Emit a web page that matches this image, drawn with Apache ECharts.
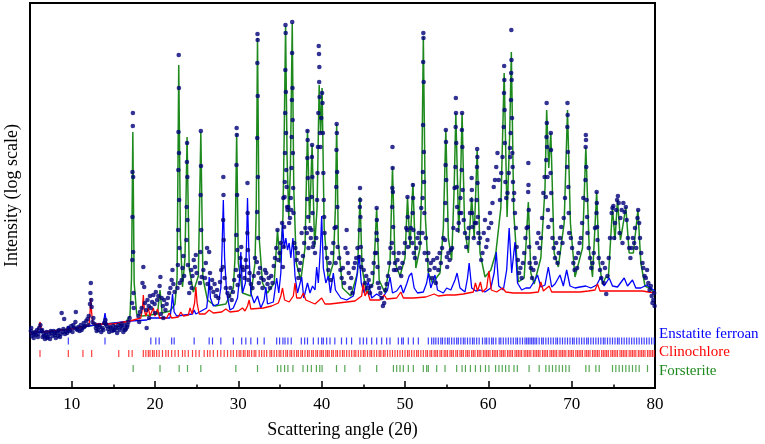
<!DOCTYPE html>
<html><head><meta charset="utf-8">
<script src="https://cdn.jsdelivr.net/npm/echarts@6/dist/echarts.min.js"></script>
<style>html,body{margin:0;padding:0;background:#fff}#c{width:765px;height:444px}</style>
</head><body><div id="c"></div>
<script>
// x: scattering angle (2θ, degrees); y: intensity on the plotted log scale (arbitrary units)
const xTickLabels = [10,20,30,40,50,60,70,80];
const xMinorTicks = [15,25,35,45,55,65,75];
const phaseNames = ['Enstatite ferroan','Clinochlore','Forsterite'];

const observed = [
[5.1,57],[5.2,52],[5.3,55],[5.45,50],[5.6,56],[5.7,53],[5.85,58],[6.0,54],[6.1,60],[6.25,63],[6.35,57],[6.5,51],[6.6,55],[6.8,49],[6.9,53],[7.0,56],[7.15,51],[7.3,54],[7.4,49],[7.55,55],[7.7,52],[7.85,57],[8.0,53],[8.1,50],[8.25,55],[8.4,52],[8.5,58],[8.7,54],[8.8,75],[8.95,56],[9.1,69],[9.3,57],[9.45,55],[9.6,60],[9.8,58],[9.95,62],[10.1,56],[10.3,60],[10.45,66],[10.5,76],[10.6,59],[10.8,61],[10.95,57],[11.1,63],[11.3,60],[11.45,65],[11.6,62],[11.75,67],[11.9,69],[12.05,72],[12.2,84],[12.25,95],[12.3,105],[12.35,88],[12.4,81],[12.6,70],[12.75,64],[12.9,60],[13.05,62],[13.2,58],[13.4,61],[13.55,56],[13.7,60],[13.9,65],[14.05,68],[14.2,62],[14.35,59],[14.5,56],[14.7,60],[14.85,57],[15.0,62],[15.15,58],[15.3,61],[15.45,55],[15.6,63],[15.75,58],[15.9,62],[16.05,60],[16.2,56],[16.35,63],[16.5,59],[16.65,61],[16.8,66],[16.95,70],
[5.15,60],[5.5,54],[5.95,51],[6.45,58],[6.7,52],[7.05,50],[7.5,57],[7.95,55],[8.35,57],[8.6,51],[9.0,59],[9.2,54],[9.7,57],[10.2,63],[10.7,58],[11.2,58],[11.5,61],[12.0,63],[12.5,66],[13.0,57],[13.3,63],[13.8,58],[14.1,64],[14.6,61],[15.05,58],[15.5,60],[16.0,64],[16.4,58],[16.7,63],
[17.35,275],[17.34,262],[17.3,216],[17.38,211],[17.3,171],[17.38,136],[17.28,128],[17.42,95],[17.25,85],[17.45,80],
[18.0,72],[18.1,66],[18.2,76],[18.4,80],[18.5,105],[18.6,121],[18.7,101],[18.8,85],[18.95,78],[19.0,60],[19.1,88],[19.25,82],[19.3,70],[19.4,92],[19.5,80],[19.65,86],[19.8,93],[19.95,84],[20.0,75],[20.1,96],[20.25,88],[20.4,92],[20.55,102],[20.65,111],[20.7,74],[20.8,90],[20.95,82],[21.0,70],[21.1,88],[21.25,78],[21.4,84],[21.55,90],[21.7,95],[21.85,100],[22.0,108],[22.1,118],[22.2,104],[22.35,96],
[22.85,333],[22.87,300],[22.82,256],[22.88,235],[22.8,218],[22.9,188],[22.78,158],[22.93,140],[22.75,123],[22.97,105],[22.7,100],
[23.85,245],[23.83,226],[23.88,211],[23.8,181],[23.9,168],[23.78,148],[23.95,123],[23.3,120],[23.4,132],[23.5,112],[23.2,108],
[24.2,105],[24.35,118],[24.5,112],[24.65,128],[24.8,121],[24.9,133],[25.0,115],[24.1,95],[24.4,100],
[25.5,257],[25.52,222],[25.47,193],[25.55,158],[25.45,136],[25.6,111],[25.4,105],
[25.8,118],[26.0,110],[26.1,125],[26.25,140],[26.3,104],[26.5,136],[26.6,115],[26.7,100],[26.85,108],[27.0,96],[27.15,104],[27.3,92],[27.45,98],[27.6,90],[27.8,106],[27.95,118],
[28.2,211],[28.22,193],[28.18,168],[28.25,148],[28.15,121],[28.35,110],[28.5,100],[28.7,95],
[28.9,92],[29.05,100],[29.2,88],[29.35,96],[29.5,108],
[29.8,260],[29.82,253],[29.78,223],[29.85,193],[29.75,153],[29.88,138],[29.72,118],[29.92,103],
[30.1,112],[30.25,130],[30.35,141],[30.5,121],[30.6,118],[30.75,110],[30.9,128],
[31.1,205],[31.12,175],[31.08,155],[31.15,138],[31.05,121],[31.2,108],[31.35,115],[31.5,104],[31.7,100],[31.85,112],[32.0,130],
[32.3,354],[32.32,348],[32.28,325],[32.33,292],[32.27,250],[32.35,211],[32.25,176],[32.38,150],[32.22,126],[32.42,115],[32.46,105],
[32.6,120],[32.75,110],[32.9,100],[33.05,108],[33.2,118],[33.35,115],[33.5,104],[33.65,110],[33.8,100],[33.95,112],[34.1,105],[34.25,122],[34.4,130],[34.55,140],[34.7,158],[34.8,128],[34.95,135],[35.1,145],[35.25,165],[35.4,190],
[35.66,363],[35.68,355],[35.64,318],[35.7,296],[35.62,275],[35.72,255],[35.6,235],[35.75,218],[35.58,206],[35.8,201],[35.55,191],[35.85,181],[35.5,161],[35.9,178],[36.0,181],[36.1,165],[35.45,141],[35.35,121],
[36.47,366],[36.45,335],[36.5,300],[36.43,288],[36.52,268],[36.4,251],[36.55,235],[36.38,220],[36.58,200],[36.35,178],[36.62,175],[36.7,145],[36.3,190],[36.2,170],
[36.85,140],[37.0,128],[37.15,135],[37.2,110],[37.3,118],[37.45,125],[37.6,155],[37.75,132],[37.9,145],[38.05,160],
[38.3,257],[38.32,248],[38.28,230],[38.34,210],[38.26,189],[38.38,171],[38.22,155],[38.42,140],
[38.85,243],[38.83,231],[38.88,211],[38.8,191],[38.9,175],[38.77,158],[38.95,141],[38.6,160],[38.7,150],[39.05,145],[39.2,135],[39.35,150],
[39.65,342],[39.68,334],[39.72,321],[39.7,306],[39.75,291],[39.6,275],[39.8,255],[39.55,241],[39.85,241],[39.5,215],[39.95,270],[40.05,295],[40.1,285],[40.15,255],[40.2,215],[40.25,188],[40.3,171],[39.45,188],[40.35,155],
[40.5,140],[40.65,130],[40.8,118],[40.95,125],[41.1,108],[41.25,135],[41.4,145],[41.55,160],
[41.8,264],[41.82,255],[41.78,238],[41.85,216],[41.75,201],[41.88,181],[41.72,161],[41.92,141],[41.68,125],
[42.1,130],[42.25,118],[42.4,110],[42.55,120],[42.7,105],[42.85,140],[43.0,158],[43.1,135],[43.15,125],[43.25,115],[43.4,100],[43.55,110],[43.7,95],[43.85,120],[44.0,125],[44.15,130],[44.3,140],
[44.6,200],[44.62,188],[44.58,181],[44.65,171],[44.55,158],[44.7,141],[44.5,131],[44.75,121],
[44.9,128],[45.05,118],[45.2,105],[45.35,112],[45.5,100],[45.65,108],[45.8,95],[45.95,102],[46.1,115],[46.25,125],[46.4,135],
[46.6,180],[46.62,168],[46.58,155],[46.65,148],[46.55,135],[46.7,121],[46.75,105],
[46.9,100],[47.05,95],[47.2,90],[47.35,82],[47.5,85],[47.65,98],[47.8,104],[47.95,112],[48.1,125],[48.25,140],
[48.5,241],[48.52,220],[48.48,200],[48.55,196],[48.46,181],[48.58,161],[48.43,145],[48.62,135],[48.68,118],
[48.8,125],[48.95,118],[49.1,128],[49.25,135],[49.4,120],[49.55,112],[49.7,125],[49.85,135],[50.0,145],[50.15,160],
[50.3,191],[50.32,171],[50.27,158],[50.35,141],
[50.95,203],[50.97,190],[50.92,175],[51.0,158],[50.88,145],[50.6,150],[50.7,160],[51.05,135],
[51.2,130],[51.35,140],[51.5,150],[51.65,155],[51.8,145],[51.95,180],
[52.2,355],[52.22,350],[52.18,326],[52.24,306],[52.17,263],[52.26,236],[52.15,216],[52.28,206],[52.12,190],[52.32,175],[52.1,155],[52.36,135],
[52.5,150],[52.65,128],[52.8,135],[52.95,118],[53.1,125],[53.25,110],[53.4,128],[53.55,120],[53.7,105],[53.85,130],[54.0,118],[54.15,135],[54.3,125],[54.45,140],[54.6,150],
[54.9,258],[54.92,246],[54.87,223],[54.95,208],[54.84,185],[54.98,168],[54.8,148],[55.02,131],[55.06,121],
[55.2,135],[55.35,128],[55.5,138],[55.65,140],[55.8,160],[55.95,200],
[56.1,290],[56.12,275],[56.08,261],[56.15,245],[56.05,221],[56.2,201],[56.25,181],[56.3,158],
[56.85,275],[56.83,258],[56.88,241],[56.8,218],[56.92,198],[56.75,175],[56.45,165],[56.55,175],[56.65,190],
[57.05,168],[57.2,155],[57.35,141],[57.5,150],[57.65,160],[57.8,175],
[58.0,210],[58.02,198],[57.98,188],[58.05,175],[58.1,161],[58.25,150],[58.4,165],
[58.66,239],[58.68,231],[58.64,221],[58.7,205],[58.6,188],[58.75,171],[58.55,165],[58.8,155],[58.85,145],
[59.0,150],[59.15,128],[59.3,135],[59.45,155],[59.6,168],[59.75,141],[59.9,148],[60.05,160],[60.2,175],[60.35,165],[60.5,185],[60.65,201],[60.8,208],[60.95,221],[61.1,235],[61.25,208],[61.4,188],[61.55,215],[61.7,231],
[61.9,322],[61.92,308],[61.88,295],[61.95,278],[61.85,261],[61.98,245],[62.05,206],[62.15,190],[62.3,195],[62.45,215],
[62.76,358],[62.78,328],[62.74,315],[62.8,308],[62.72,288],[62.84,270],[62.68,255],[62.88,235],[62.62,231],[62.92,221],[62.6,240],[62.96,206],[63.0,188],
[63.1,195],[63.2,175],[63.3,160],[63.4,141],[63.55,128],[63.7,115],[63.85,120],[64.0,110],[64.15,125],[64.3,135],[64.45,150],[64.6,160],
[64.8,225],[64.82,203],[64.78,196],[64.85,178],[64.75,161],[64.9,141],[64.95,125],
[65.1,120],[65.25,110],[65.4,118],[65.55,130],[65.7,125],[65.85,145],[66.0,155],[66.15,140],[66.3,150],[66.45,170],[66.6,195],[66.75,211],
[67.0,285],[67.02,265],[66.98,251],[67.05,241],[66.95,228],[67.1,211],[66.9,191],[67.15,178],[67.2,161],
[67.5,255],[67.52,238],[67.47,215],[67.55,195],[67.6,168],[67.7,150],
[67.85,140],[68.0,130],[68.15,145],[68.3,125],[68.45,135],[68.6,150],[68.75,161],[68.9,145],[69.05,170],[69.2,190],
[69.5,285],[69.52,273],[69.48,261],[69.55,236],[69.45,221],[69.6,201],[69.65,175],[69.7,155],
[69.9,150],[70.05,140],[70.2,125],[70.35,118],[70.5,130],[70.65,120],[70.8,135],[70.95,145],[71.1,150],[71.25,165],[71.4,190],
[71.7,253],[71.72,248],[71.68,241],[71.75,221],[71.65,208],[71.8,188],[71.85,171],[71.9,155],
[72.05,140],[72.2,130],[72.35,120],[72.5,125],[72.65,135],[72.8,160],
[73.0,196],[73.02,185],[72.98,175],[73.05,161],[73.1,148],
[73.25,130],[73.4,118],[73.55,110],[73.7,125],[73.85,105],[74.0,120],[74.15,94],[74.3,112],[74.45,130],[74.6,150],
[74.8,175],[74.9,180],[75.0,182],[75.1,150],[75.2,165],[75.35,178],[75.45,188],[75.55,192],[75.65,185],[75.75,155],[75.85,170],[76.0,178],[76.1,145],[76.2,185],[76.35,176],[76.5,181],[76.6,168],[76.75,150],[76.9,140],
[77.05,130],[77.2,140],[77.35,150],[77.5,145],[77.6,160],[77.75,140],[77.9,170],[77.98,178],[78.1,165],[78.2,150],[78.35,135],
[78.5,125],[78.6,120],[78.75,112],[78.9,110],[79.05,118],[79.2,105],[79.35,98],[79.5,102],[79.6,92],[79.7,85],[79.8,88],[79.9,95],[79.95,82]
];

const forsteriteCalc = [
[5.0,55],[8.0,57],[11.0,61],[14.0,64],[16.5,66],[17.0,72],[17.18,110],[17.34,256],[17.5,105],[17.8,74],[18.5,72],[20.3,74],[20.6,98],[20.85,75],[21.8,77],[22.4,84],[22.65,110],[22.85,323],[23.05,150],[23.3,101],[23.6,130],[23.85,251],[24.1,120],[24.6,96],[25.2,112],[25.5,256],[25.75,110],[26.3,88],[27.2,82],[28.5,84],[29.4,100],[29.6,130],[29.8,255],[30.0,125],[30.5,95],[31.5,92],[32.0,125],[32.15,180],[32.3,350],[32.5,150],[32.9,105],[33.5,95],[34.3,105],[34.7,158],[35.0,125],[35.35,170],[35.5,250],[35.67,362],[35.85,230],[36.05,171],[36.25,220],[36.47,365],[36.65,200],[36.95,125],[37.5,108],[38.0,140],[38.3,258],[38.55,165],[38.85,243],[39.15,141],[39.45,180],[39.7,303],[39.88,255],[40.05,300],[40.3,160],[40.8,108],[41.4,125],[41.65,180],[41.8,264],[42.0,145],[42.5,100],[43.5,92],[44.3,115],[44.6,191],[44.85,120],[45.4,95],[46.2,105],[46.6,180],[46.9,108],[47.6,95],[48.2,125],[48.5,221],[48.8,125],[49.4,112],[50.0,130],[50.3,191],[50.6,140],[50.95,205],[51.3,120],[51.8,140],[52.0,200],[52.2,351],[52.45,170],[52.8,115],[53.3,105],[54.2,115],[54.6,160],[54.9,258],[55.2,150],[55.6,128],[55.9,200],[56.1,275],[56.45,155],[56.7,220],[56.85,275],[57.15,160],[57.6,135],[58.0,191],[58.3,150],[58.66,238],[59.0,135],[59.6,111],[60.3,118],[60.9,135],[61.5,180],[61.9,315],[62.25,171],[62.55,250],[62.76,336],[63.05,175],[63.6,106],[64.3,110],[64.8,186],[65.1,115],[65.5,104],[66.3,130],[66.8,200],[67.0,278],[67.25,220],[67.5,255],[67.9,135],[68.4,121],[69.1,165],[69.5,278],[69.85,165],[70.4,111],[71.3,140],[71.7,241],[72.1,140],[72.5,111],[73.0,196],[73.3,125],[73.7,104],[74.1,111],[74.4,110],[74.9,180],[75.2,148],[75.5,188],[75.85,148],[76.1,160],[76.5,181],[76.9,135],[77.4,135],[77.95,178],[78.3,125],[78.8,102],[79.3,100],[80.0,95]
];

const enstatiteCalc = [
[5.0,55],[6.0,56],[9.4,58],[9.6,62],[9.8,59],[11.0,61],[13.8,64],[14.0,75],[14.2,64],[17.0,67],[19.0,68],[19.5,70],[19.7,68],[21.8,70],[21.95,80],[22.1,94],[22.3,76],[22.6,72],[24.5,74],[24.7,78],[24.9,74],[26.2,80],[26.4,95],[26.5,111],[26.65,90],[27.0,82],[27.6,84],[27.9,100],[28.05,140],[28.2,188],[28.35,130],[28.6,95],[29.0,78],[29.4,80],[29.9,90],[30.15,110],[30.3,136],[30.5,95],[30.85,105],[31.0,150],[31.1,190],[31.25,140],[31.5,95],[31.9,85],[32.3,92],[32.7,80],[33.1,88],[33.3,101],[33.5,84],[34.2,86],[34.6,110],[34.85,95],[35.1,115],[35.3,165],[35.5,140],[35.7,150],[35.9,138],[36.1,145],[36.3,130],[36.55,150],[36.8,112],[37.1,95],[37.6,111],[37.85,90],[38.3,105],[38.6,95],[38.9,102],[39.2,98],[39.4,121],[39.6,105],[39.85,140],[40.0,172],[40.2,120],[40.5,105],[40.8,112],[41.05,95],[41.4,115],[41.65,98],[42.3,90],[43.0,88],[43.8,92],[44.2,110],[44.5,133],[44.75,105],[45.1,95],[45.6,106],[46.0,90],[46.6,94],[47.3,90],[47.9,98],[48.2,111],[48.5,95],[49.0,97],[49.5,103],[49.8,95],[50.2,104],[50.5,112],[50.8,115],[51.1,100],[51.5,95],[52.2,96],[52.6,105],[52.8,115],[53.1,100],[53.6,113],[53.9,98],[54.6,95],[55.0,100],[55.5,98],[56.0,108],[56.25,115],[56.6,100],[57.2,96],[57.5,110],[57.7,125],[58.0,100],[58.5,97],[59.0,98],[59.6,96],[60.3,100],[60.7,115],[60.95,136],[61.25,102],[61.8,98],[62.2,118],[62.5,160],[62.8,115],[63.2,146],[63.5,105],[64.0,98],[64.5,100],[65.0,100],[65.6,108],[65.9,113],[66.3,101],[66.8,103],[67.2,121],[67.6,101],[68.0,104],[68.6,113],[69.0,102],[69.4,118],[69.8,102],[70.4,100],[71.0,101],[71.7,102],[72.3,100],[73.0,103],[73.5,111],[73.9,102],[74.5,110],[74.9,102],[75.5,101],[76.3,110],[76.7,102],[77.3,108],[77.7,100],[78.3,100],[79.0,103],[79.5,100],[80.0,97]
];

const clinochloreCalc = [
[5.0,55],[5.8,56],[6.05,60],[6.2,66],[6.35,60],[6.6,56],[9.0,58],[11.5,61],[12.1,64],[12.2,75],[12.3,90],[12.4,75],[12.55,64],[15.0,64],[17.0,67],[18.3,70],[18.5,80],[18.6,93],[18.72,78],[18.9,72],[19.2,80],[19.4,72],[19.8,80],[20.0,72],[20.3,79],[20.55,70],[21.4,70],[21.7,75],[22.0,70],[22.8,71],[23.1,76],[23.4,72],[24.0,73],[24.2,80],[24.45,74],[24.75,85],[24.9,101],[25.05,85],[25.3,74],[26.0,74],[26.5,78],[27.0,75],[28.0,76],[28.5,79],[29.0,76],[30.0,77],[30.5,80],[30.8,77],[31.1,82],[31.3,88],[31.5,79],[33.0,80],[34.0,82],[34.8,85],[35.1,92],[35.3,100],[35.55,88],[36.1,86],[36.6,92],[36.8,105],[37.0,90],[37.5,90],[37.8,95],[38.1,88],[39.2,84],[40.0,90],[40.4,84],[41.0,84],[42.0,85],[43.0,86],[44.0,87],[44.8,92],[45.0,105],[45.2,92],[45.5,97],[45.8,88],[47.0,88],[47.5,93],[47.8,89],[49.0,90],[49.5,96],[49.8,90],[51.0,90],[52.5,91],[53.5,94],[54.0,92],[55.0,93],[56.0,93],[57.0,94],[58.2,96],[58.45,105],[58.7,97],[59.05,106],[59.3,96],[59.8,100],[60.07,117],[60.35,98],[61.0,96],[61.7,100],[62.1,96],[63.0,95],[64.0,95],[65.0,95],[66.0,96],[66.3,106],[66.6,97],[67.3,102],[67.6,96],[69.0,96],[70.0,96],[71.0,96],[72.0,97],[72.8,98],[73.1,104],[73.4,97],[75.0,97],[77.0,97],[78.5,97],[79.2,96],[80.0,95]
];

const enstatiteTicks = [9.6,14.0,19.5,20.1,20.5,22.0,22.3,24.7,26.5,26.9,27.9,29.4,30.4,30.9,31.5,32.3,33.1,34.6,34.95,35.35,35.6,35.95,36.35,37.56,37.96,38.3,39.0,39.6,40.0,40.2,40.6,41.0,41.58,42.38,42.98,43.59,44.59,45.0,45.4,46.0,46.6,47.2,47.8,48.2,49.2,49.6,49.8,50.4,51.0,51.6,52.8,53.2,53.45,53.7,54.0,54.3,54.5,54.8,55.1,55.3,55.6,55.9,56.2,56.4,56.7,57.0,57.2,57.5,57.8,58.1,58.3,58.6,58.9,59.3,59.6,59.8,60.1,60.4,60.6,60.9,61.3,61.5,61.8,62.1,62.4,62.7,63.0,63.3,63.5,63.8,64.1,64.4,64.6,64.8,65.0,65.2,65.4,65.6,65.8,66.1,66.4,66.6,66.9,67.2,67.5,67.8,68.1,68.3,68.6,68.9,69.2,69.5,69.8,70.1,70.3,70.6,70.9,71.2,71.5,71.8,72.0,72.3,72.6,72.9,73.2,73.5,73.8,74.0,74.3,74.6,74.9,75.2,75.5,75.7,76.0,76.3,76.6,76.9,77.2,77.5,77.8,78.1,78.4,78.7,79.0,79.3,79.6,79.9];

const clinochloreTicks = [6.2,9.6,11.35,12.4,15.65,16.85,17.26,18.6,18.9,19.2,19.4,19.7,19.9,20.2,20.5,20.9,21.3,21.6,22.0,22.4,22.8,23.3,23.6,24.0,24.5,24.9,25.3,25.9,26.3,26.6,27.0,27.5,27.9,28.3,28.7,29.1,29.4,29.8,30.1,30.3,30.6,30.8,31.1,31.3,31.6,31.9,32.1,32.5,32.8,33.1,33.4,33.8,34.0,34.3,34.6,34.9,35.1,35.4,35.7,35.9,36.2,36.4,36.7,37.0,37.2,37.5,37.7,38.0,38.3,38.5,38.8,39.0,39.3,39.5,39.8,40.0,40.2,40.5,40.7,40.9,41.2,41.4,41.7,41.9,42.2,42.5,42.7,43.0,43.3,43.6,43.9,44.1,44.4,44.7,45.0,45.2,45.5,45.8,46.0,46.3,46.6,46.9,47.1,47.4,47.6,47.9,48.2,48.5,48.8,49.1,49.4,49.7,50.0,50.3,50.5,50.8,51.1,51.4,51.6,51.9,52.2,52.5,52.7,53.0,53.2,53.5,53.7,53.9,54.2,54.4,54.7,54.9,55.1,55.4,55.6,55.8,56.1,56.3,56.6,56.8,57.0,57.3,57.5,57.7,58.0,58.2,58.4,58.7,58.9,59.1,59.4,59.6,59.8,60.0,60.2,60.5,60.7,60.9,61.1,61.4,61.6,61.8,62.0,62.3,62.5,62.7,62.9,63.2,63.4,63.6,63.8,64.0,64.3,64.5,64.7,64.9,65.1,65.4,65.6,65.8,66.0,66.2,66.5,66.7,66.9,67.1,67.4,67.6,67.8,68.0,68.2,68.5,68.7,68.9,69.1,69.3,69.6,69.8,70.0,70.2,70.5,70.7,70.9,71.1,71.3,71.6,71.8,72.0,72.2,72.5,72.7,72.9,73.1,73.3,73.6,73.8,74.0,74.2,74.4,74.7,74.9,75.1,75.3,75.5,75.8,76.0,76.2,76.4,76.6,76.9,77.1,77.3,77.5,77.7,78.0,78.2,78.4,78.6,78.8,79.1,79.3,79.5,79.7,79.9];

const forsteriteTicks = [17.38,20.6,22.9,23.9,25.5,29.7,32.3,34.7,35.1,35.55,35.95,36.55,37.76,38.3,38.76,39.37,39.77,40.05,41.78,42.78,44.59,46.6,48.61,49.0,49.4,49.8,50.4,51.0,52.2,52.6,52.8,53.8,54.8,56.2,56.85,57.25,57.85,58.45,59.06,59.66,60.07,60.87,61.27,61.67,62.07,62.48,63.08,63.48,64.89,66.1,66.9,67.3,67.7,68.1,68.5,68.9,69.3,69.7,71.7,72.1,72.9,73.3,74.9,75.3,75.7,76.1,76.5,76.9,77.3,77.7,78.1,79.1];

// layout / style constants
const SERIF = '"Liberation Serif", "Times New Roman", serif';
const ROW_LEVEL = { ens: 47, cli: 34.5, fors: 19.5 };
const C_BLUE = '#0000ff', C_RED = '#ff0000', C_GREEN = '#1e8a1e', C_DOT = '#00007a';

const chart = echarts.init(document.getElementById('c'), null, { renderer: 'canvas' });

function tickRow(ticks, level, color) {
  return {
    type: 'scatter', xAxisIndex: 0, yAxisIndex: 0, silent: true,
    symbol: 'rect', symbolSize: [1.2, 7],
    itemStyle: { color: color, opacity: 0.75 },
    data: ticks.map(a => [a, level]), z: 2
  };
}

chart.setOption({
  animation: false,
  backgroundColor: '#fff',
  grid: { left: 30, right: 110, top: 3, bottom: 56, show: true, borderColor: '#000', borderWidth: 2,
          backgroundColor: 'transparent', containLabel: false, outerBoundsMode: 'none' },
  xAxis: [{
    type: 'value', min: 5, max: 80, interval: 5,
    name: 'Scattering angle (2θ)', nameLocation: 'middle', nameGap: 33,
    nameTextStyle: { fontFamily: SERIF, fontSize: 18, color: '#000' },
    axisLine: { show: true, lineStyle: { color: '#000', width: 2 } },
    axisTick: { show: true, inside: true, length: 7, customValues: xTickLabels, lineStyle: { color: '#000', width: 1.5 } },
    axisLabel: { customValues: xTickLabels, fontFamily: SERIF, fontSize: 17, color: '#000', margin: 8 },
    splitLine: { show: false }
  }, {
    type: 'value', min: 5, max: 80, interval: 5, position: 'bottom', offset: 0,
    axisLine: { show: false },
    axisTick: { show: true, inside: true, length: 3.5, customValues: xMinorTicks, lineStyle: { color: '#000', width: 1.5 } },
    axisLabel: { show: false }, splitLine: { show: false }
  }],
  yAxis: {
    type: 'value', min: 0, max: 385,
    name: 'Intensity (log scale)', nameLocation: 'middle', nameGap: 9, nameRotate: 90,
    nameTextStyle: { fontFamily: SERIF, fontSize: 18, color: '#000' },
    axisLine: { show: true, lineStyle: { color: '#000', width: 2 } },
    axisTick: { show: false }, axisLabel: { show: false }, splitLine: { show: false }
  },
  series: [
    { name: 'Forsterite calc', type: 'line', data: forsteriteCalc, showSymbol: false, symbol: 'none',
      lineStyle: { color: C_GREEN, width: 1.5 }, z: 3, silent: true },
    { name: 'Enstatite calc', type: 'line', data: enstatiteCalc, showSymbol: false, symbol: 'none',
      lineStyle: { color: C_BLUE, width: 1.3 }, z: 4, silent: true },
    { name: 'Clinochlore calc', type: 'line', data: clinochloreCalc, showSymbol: false, symbol: 'none',
      lineStyle: { color: C_RED, width: 1.3 }, z: 5, silent: true },
    { name: 'Observed', type: 'scatter', data: observed, symbol: 'circle', symbolSize: 4.6,
      itemStyle: { color: C_DOT }, z: 6, silent: true },
    tickRow(enstatiteTicks, ROW_LEVEL.ens, C_BLUE),
    tickRow(clinochloreTicks, ROW_LEVEL.cli, C_RED),
    tickRow(forsteriteTicks, ROW_LEVEL.fors, C_GREEN)
  ],
  graphic: [
    { type: 'text', left: 659, top: 327, style: { text: phaseNames[0], fill: C_BLUE, font: '15px ' + SERIF } },
    { type: 'text', left: 659, top: 345, style: { text: phaseNames[1], fill: C_RED, font: '15px ' + SERIF } },
    { type: 'text', left: 659, top: 364, style: { text: phaseNames[2], fill: C_GREEN, font: '15px ' + SERIF } }
  ]
});
</script>
</body></html>
